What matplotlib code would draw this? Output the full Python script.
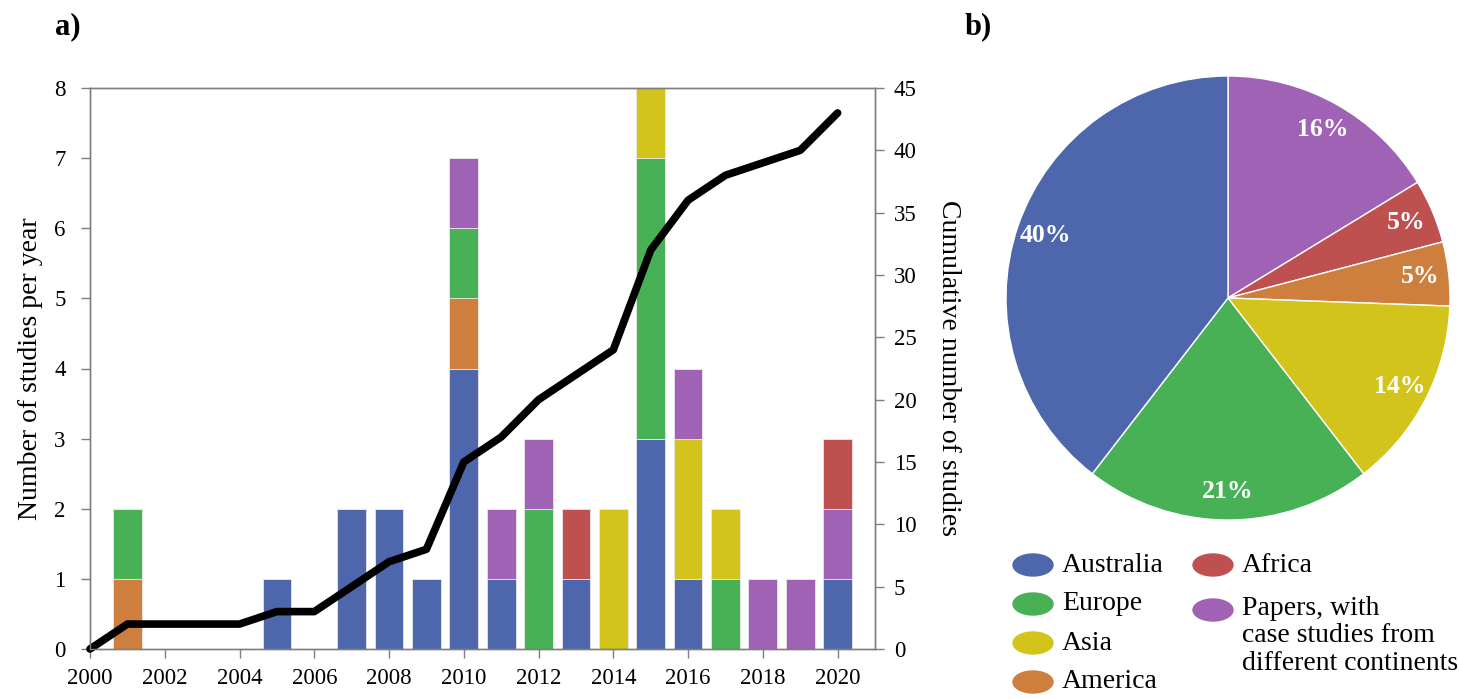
import numpy as np
import matplotlib.pyplot as plt
from matplotlib.patches import Ellipse

plt.rcParams['font.family'] = ['Liberation Serif', 'DejaVu Serif']

years = list(range(2000, 2021))
# studies per year by region of the case study
australia = [0, 0, 0, 0, 0, 1, 0, 2, 2, 1, 4, 1, 0, 1, 0, 3, 1, 0, 0, 0, 1]
america   = [0, 1, 0, 0, 0, 0, 0, 0, 0, 0, 1, 0, 0, 0, 0, 0, 0, 0, 0, 0, 0]
europe    = [0, 1, 0, 0, 0, 0, 0, 0, 0, 0, 1, 0, 2, 0, 0, 4, 0, 1, 0, 0, 0]
asia      = [0, 0, 0, 0, 0, 0, 0, 0, 0, 0, 0, 0, 0, 0, 2, 1, 2, 1, 0, 0, 0]
multi     = [0, 0, 0, 0, 0, 0, 0, 0, 0, 0, 1, 1, 1, 0, 0, 0, 1, 0, 1, 1, 1]
africa    = [0, 0, 0, 0, 0, 0, 0, 0, 0, 0, 0, 0, 0, 1, 0, 0, 0, 0, 0, 0, 1]

c_aus = '#4e67ac'
c_ame = '#ce7e3d'
c_eur = '#48b156'
c_asi = '#d3c41b'
c_afr = '#bf5050'
c_mul = '#9f62b4'
spine_col = '#7f7f7f'

W, H = 1459, 699
fig = plt.figure(figsize=(W/100, H/100), dpi=100)

# ---- a) studies per year + cumulative line
ax = fig.add_axes([90/W, 1-649/H, 785/W, 561/H])
stack = [(australia, c_aus), (america, c_ame), (europe, c_eur),
         (asia, c_asi), (multi, c_mul), (africa, c_afr)]
bottom = np.zeros(len(years))
for vals, col in stack:
    v = np.array(vals)
    ax.bar(years, v, bottom=bottom, width=0.77, color=col,
           edgecolor='#e8e8e8', linewidth=0.6)
    bottom += v

ax.set_xlim(2000, 2021)
ax.set_ylim(0, 8)
ax.set_xticks(range(2000, 2021, 2))
ax.set_yticks(range(0, 9))
ax.set_ylabel('Number of studies per year', fontsize=20, labelpad=8)
for s in ax.spines.values():
    s.set_color(spine_col)
    s.set_linewidth(1.0)
ax.tick_params(axis='y', direction='out', length=6.5, width=1, color=spine_col,
               labelsize=16.5, pad=11)
ax.tick_params(axis='x', direction='out', length=6.5, width=1, color=spine_col,
               labelsize=16.5, pad=7)

ax2 = ax.twinx()
cumulative = np.cumsum(bottom)
ax2.plot(years, cumulative, color='black', linewidth=5.5, clip_on=False,
         solid_capstyle='round', solid_joinstyle='round')
ax2.set_ylim(0, 45)
ax2.set_yticks(range(0, 46, 5))
for s in ax2.spines.values():
    s.set_color(spine_col)
    s.set_linewidth(1.0)
ax2.tick_params(axis='y', direction='out', length=6.5, width=1, color=spine_col,
                labelsize=16.5, pad=7)
ax2.set_ylabel('Cumulative number of studies', fontsize=20, rotation=270,
               labelpad=32)

fig.text(55/W, 1-27/H, 'a)', fontsize=22, fontweight='bold', va='center')
fig.text(965/W, 1-27/H, 'b)', fontsize=22, fontweight='bold', va='center')

# ---- b) share of studies by region
pie_vals = [sum(multi), sum(africa), sum(america), sum(asia), sum(europe), sum(australia)]
pie_cols = [c_mul, c_afr, c_ame, c_asi, c_eur, c_aus]
axp = fig.add_axes([1006/W, 1-520/H, 444/W, 444/H])
wedges, texts, autotexts = axp.pie(
    pie_vals, colors=pie_cols, startangle=90, counterclock=False,
    autopct='%.0f%%', pctdistance=0.87,
    wedgeprops=dict(edgecolor='white', linewidth=1.0))
for t in autotexts:
    t.set_color('white')
    t.set_fontweight('bold')
    t.set_fontsize(18.5)
axp.set_xlim(-1, 1)
axp.set_ylim(-1, 1)
axp.set_aspect('equal')

# legend with oval swatches
legend_items = [
    (1033, 565, c_aus, 'Australia'),
    (1033, 604, c_eur, 'Europe'),
    (1033, 643, c_asi, 'Asia'),
    (1033, 682, c_ame, 'America'),
    (1213, 565, c_afr, 'Africa'),
    (1213, 610, c_mul, 'Papers, with\ncase studies from\ndifferent continents'),
]
for px, py, col, lab in legend_items:
    fig.add_artist(Ellipse((px/W, 1-py/H), 40/W, 22/H,
                           transform=fig.transFigure, color=col))
    if '\n' in lab:
        fig.text((px+29)/W, 1-(py-14)/H, lab, fontsize=20, va='top',
                 ha='left', linespacing=1.12)
    else:
        fig.text((px+29)/W, 1-py/H, lab, fontsize=20, va='center', ha='left')

fig.savefig('out.png', dpi=100)
